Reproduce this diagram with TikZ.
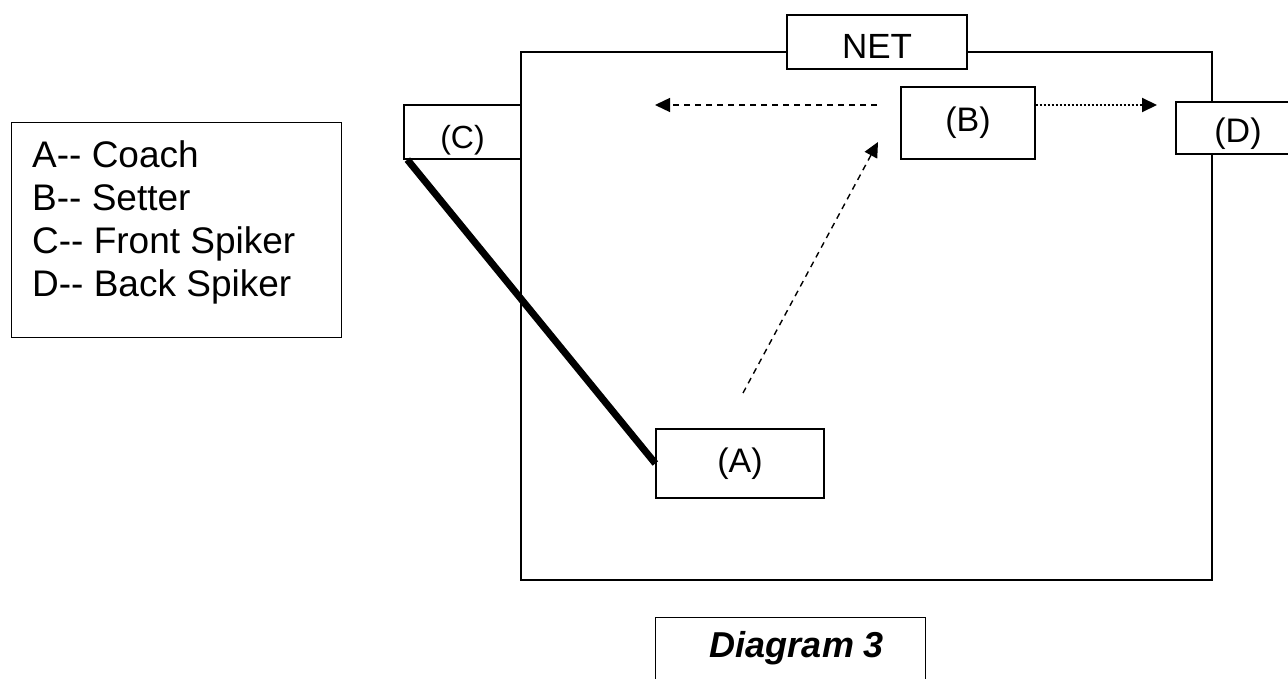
\documentclass[tikz,border=0pt]{standalone}
\usepackage{fontspec}
\setmainfont{Liberation Sans}
\usetikzlibrary{arrows.meta}
% label set on a baseline lowered by #1 below the node centre
\newcommand{\lowlabel}[2]{\raisebox{-#1}[0pt][0pt]{#2}}
\begin{document}
\begin{tikzpicture}[x=1pt,y=-1pt,
  box/.style={draw,line width=1.3pt,fill=white,inner sep=0pt,
    font=\fontsize{34}{40}\selectfont},
  court/.style={draw,line width=2pt},
  tiphead/.style={-{Triangle[length=15pt,width=14pt]}},
  dashline/.style={line width=1.4pt,dash pattern=on 6pt off 5pt},
  dotline/.style={line width=2pt,dash pattern=on 2pt off 2pt},
  thick line/.style={line width=7pt},
]
\useasboundingbox (0,0) rectangle (1288,679);

% legend
\node[draw,line width=1.3pt,minimum width=330pt,minimum height=215pt,anchor=north west,inner sep=0pt]
  (legend) at (11,122) {};
\node[anchor=north west,inner sep=0pt,align=left,
  font=\fontsize{37}{43}\selectfont] (legtext) at (32,140)
  {A-{}- Coach\\B-{}- Setter\\C-{}- Front Spiker\\D-{}- Back Spiker};

% court outline
\draw[court] (521,52) rectangle (1212,580);

% net and players
\node[box,minimum width=180pt,minimum height=54pt,font=\fontsize{35}{40}\selectfont]
  (net) at (877,42) {\lowlabel{17pt}{NET}};
\node[box,minimum width=117pt,minimum height=54pt,font=\fontsize{32}{38}\selectfont]
  (C) at (462.5,132) {\lowlabel{17pt}{(C)}};
\node[box,minimum width=134pt,minimum height=72pt] (B) at (968,123) {(B)};
\node[box,minimum width=124pt,minimum height=52pt] (D) at (1238,128) {\lowlabel{15pt}{(D)}};
\node[box,minimum width=168pt,minimum height=69pt] (A) at (740,463.5) {(A)};

% caption
\node[box,minimum width=270pt,minimum height=80pt,anchor=north west]
  (cap) at (655,617) {};
\node[inner sep=0pt,font=\fontsize{36}{43}\selectfont\bfseries\itshape]
  (captext) at (797,648) {Diagram 3};

% passes
\coordinate (bstart) at (877,105);
\coordinate (lefttip) at (655,105);
\coordinate (righttip) at (1157,105);
\coordinate (astart) at (743,393);
\coordinate (btip) at (878,142);

\draw[dashline,tiphead] (bstart) -- (lefttip);
\draw[dotline,tiphead] ([yshift=18pt]B.east) -- (righttip);
\draw[dashline,tiphead] (astart) -- (btip);
\draw[thick line] ([xshift=4pt]C.south west) -- (A.west);
\end{tikzpicture}
\end{document}
